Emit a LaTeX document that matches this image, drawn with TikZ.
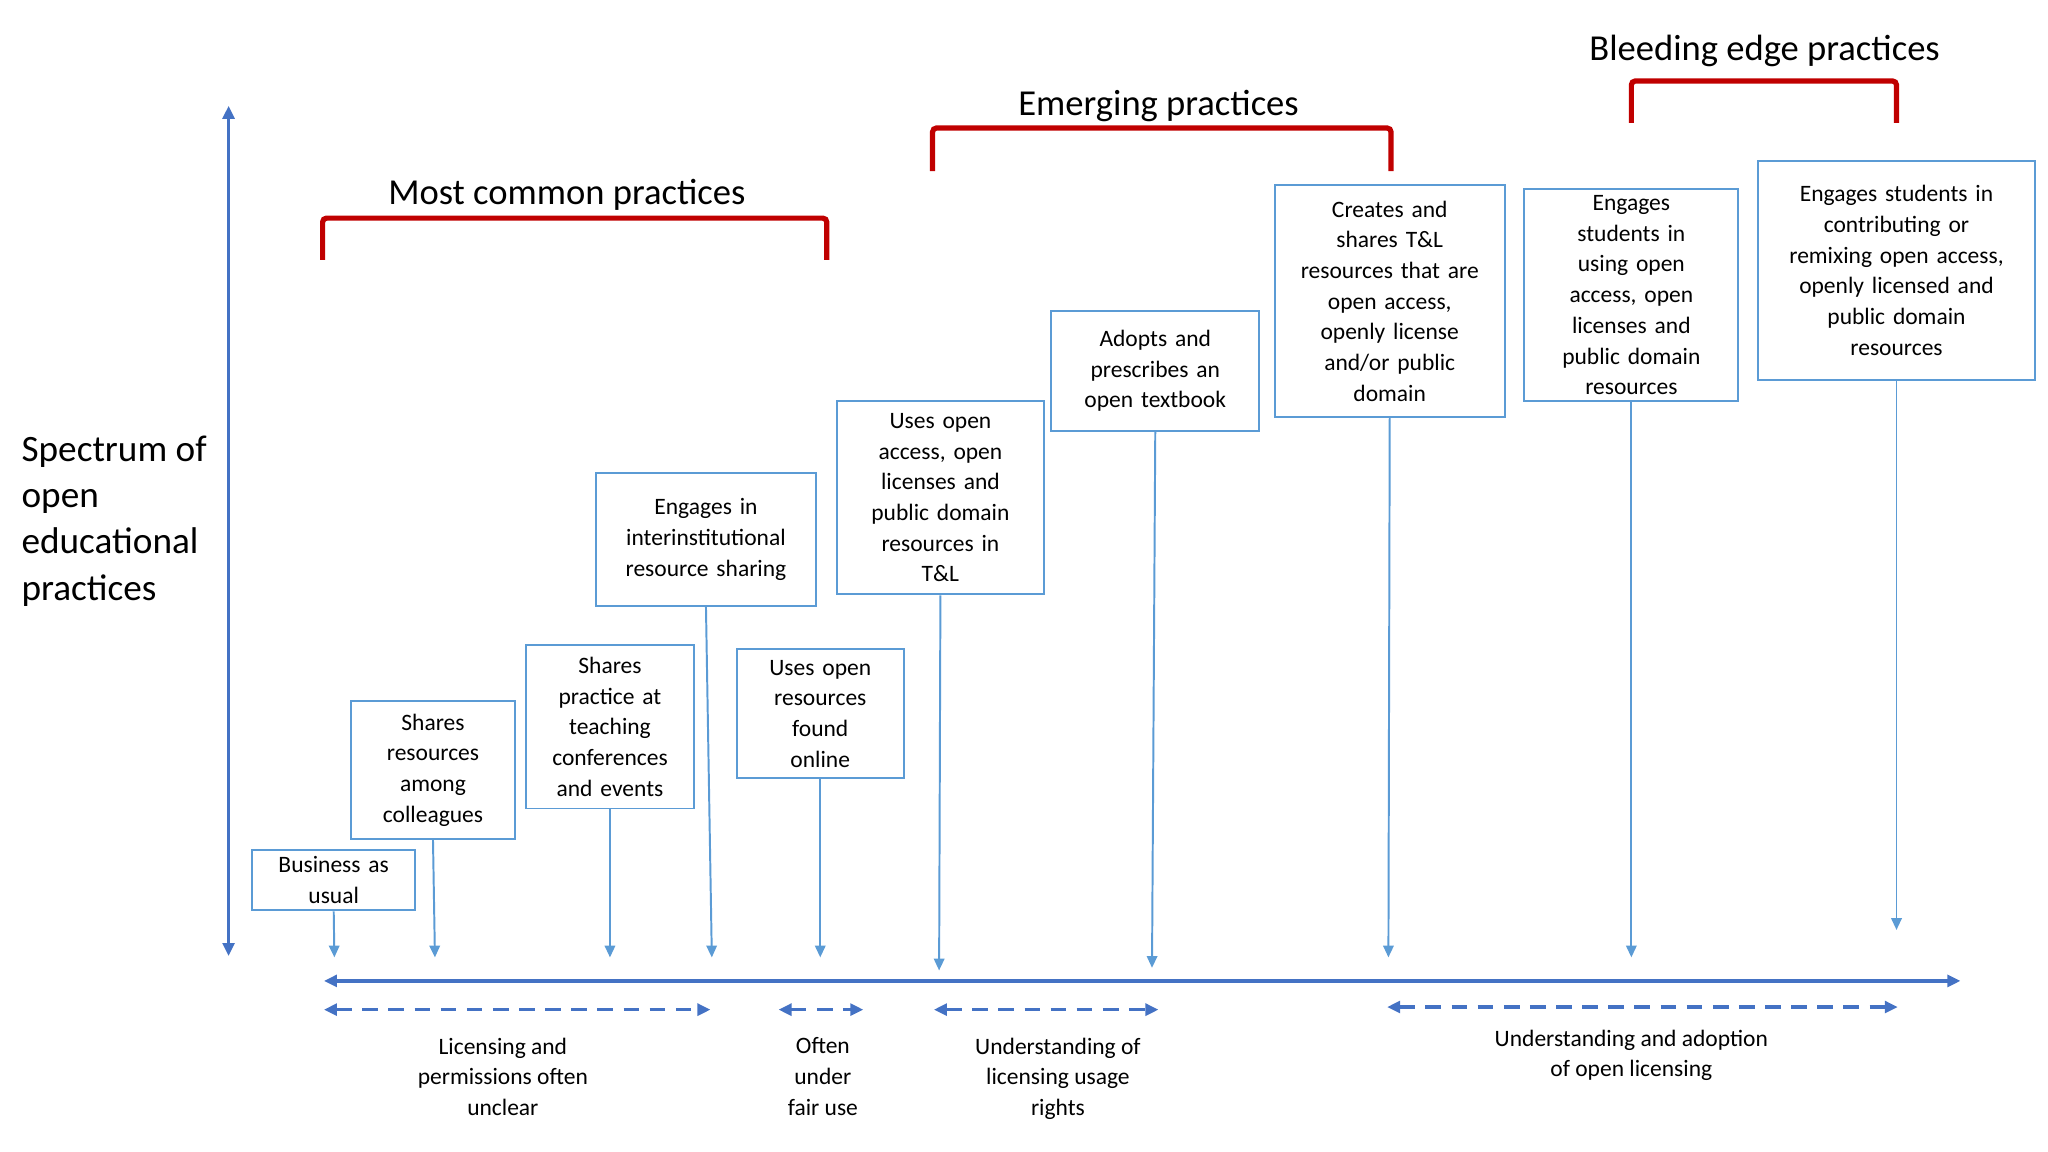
\documentclass[tikz,border=0pt]{standalone}
\usepackage{fontspec}
\setmainfont{Carlito}
\usetikzlibrary{arrows.meta}
\definecolor{bx}{HTML}{5B9BD5}
\definecolor{ax}{HTML}{4472C4}
\definecolor{rd}{HTML}{C00000}
\begin{document}
\begin{tikzpicture}[x=1pt,y=-1pt,
 box/.style={draw=bx,line width=1.5pt,align=center,inner sep=0pt,font=\fontsize{18}{23.5}\selectfont},
 arr/.style={draw=bx,line width=1.5pt,-{Triangle[length=9pt,width=8pt]}},
 axis/.style={draw=ax,line width=2.5pt,{Triangle[length=10pt,width=9pt]}-{Triangle[length=10pt,width=9pt]}},
 dsh/.style={axis,dashed,dash pattern=on 12pt off 8pt},
 lbl/.style={align=center,font=\fontsize{18}{23.5}\selectfont},
 brk/.style={draw=rd,line width=4pt,rounded corners=3pt},
 ttl/.style={font=\fontsize{28}{30}\selectfont}]
\useasboundingbox (0,0) rectangle (1568,882);
\newcommand{\bx}[6]{\node[box,minimum width=#3-#2,minimum height=#5-#4,text width=#3-#2-2] (#1) at ({(#2+#3)/2},{(#4+#5)/2}) {#6};}
\bx{b1}{193}{318}{651}{697}{Business as\\usual}
\bx{b2}{269}{394}{537}{642}{Shares\\resources\\among\\colleagues}
\bx{b3}{403}{531}{494}{619}{Shares\\practice at\\teaching\\conferences\\and events}
\bx{b4}{456}{625}{362}{464}{Engages in\\interinstitutional\\resource sharing}
\bx{b5}{564}{692}{497}{596}{Uses open\\resources\\found\\online}
\bx{b6}{641}{799}{307}{455}{Uses open\\access, open\\licenses and\\public domain\\resources in\\T\&L}
\bx{b7}{805}{964}{238}{330}{Adopts and\\prescribes an\\open textbook}
\bx{b8}{976}{1152}{142}{319}{Creates and\\shares T\&L\\resources that are\\open access,\\openly license\\and/or public\\domain}
\bx{b9}{1167}{1331}{145}{307}{Engages\\students in\\using open\\access, open\\licenses and\\public domain\\resources}
\bx{b10}{1346}{1558}{123}{291}{Engages students in\\contributing or\\remixing open access,\\openly licensed and\\public domain\\resources}
\coordinate (e1) at (256,733);\coordinate (e2) at (333,733);\coordinate (e3) at (467,733);
\coordinate (e4) at (545,733);\coordinate (e5) at (628,733);\coordinate (e6) at (719,743);
\coordinate (e7) at (882,741);\coordinate (e8) at (1063,733);\coordinate (e9) at (1249,733);
\coordinate (e10) at (1452,712);
\draw[arr] (b1.south) -- (e1);
\draw[arr] (b2.south) -- (e2);
\draw[arr] (b3.south) -- (e3);
\draw[arr] (b4.south) -- (e4);
\draw[arr] (b5.south) -- (e5);
\draw[arr] (b6.south) -- (e6);
\draw[arr] (b7.south) -- (e7);
\draw[arr] (b8.south) -- (e8);
\draw[arr] (b9.south) -- (e9);
\draw[arr] (b10.south) -- (e10);
\coordinate (v1) at (175,732);\coordinate (v2) at (175,81);
\draw[axis] (v1) -- (v2);
\coordinate (h1) at (248,751);\coordinate (h2) at (1501,751);
\draw[axis] (h1) -- (h2);
\coordinate (d1) at (248,773);\coordinate (d2) at (544,773);
\coordinate (d3) at (596,773);\coordinate (d4) at (661,773);
\coordinate (d5) at (715,773);\coordinate (d6) at (887,773);
\coordinate (d7) at (1062,771);\coordinate (d8) at (1453,771);
\draw[dsh] (d1) -- (d2);\draw[dsh] (d3) -- (d4);\draw[dsh] (d5) -- (d6);\draw[dsh] (d7) -- (d8);
\node[lbl,anchor=north] (l1) at (385,791) {Licensing and\\permissions often\\unclear};
\node[lbl,anchor=north] (l2) at (630,791) {Often\\under\\fair use};
\node[lbl,anchor=north] (l3) at (810,791) {Understanding of\\licensing usage\\rights};
\node[lbl,anchor=north] (l4) at (1249,785) {Understanding and adoption\\of open licensing};
\node[align=left,anchor=north west,font=\fontsize{28.5}{35.5}\selectfont] (sp) at (13,330) {Spectrum of\\open\\educational\\practices};
\draw[brk] (247,199) -- (247,167) -- (633,167) -- (633,199);
\draw[brk] (714,131) -- (714,98) -- (1065,98) -- (1065,131);
\draw[brk] (1249,94) -- (1249,62) -- (1452,62) -- (1452,94);
\node[ttl] (t1) at (434,149) {Most common practices};
\node[ttl] (t2) at (887,81) {Emerging practices};
\node[ttl] (t3) at (1351,39) {Bleeding edge practices};
\end{tikzpicture}
\end{document}
